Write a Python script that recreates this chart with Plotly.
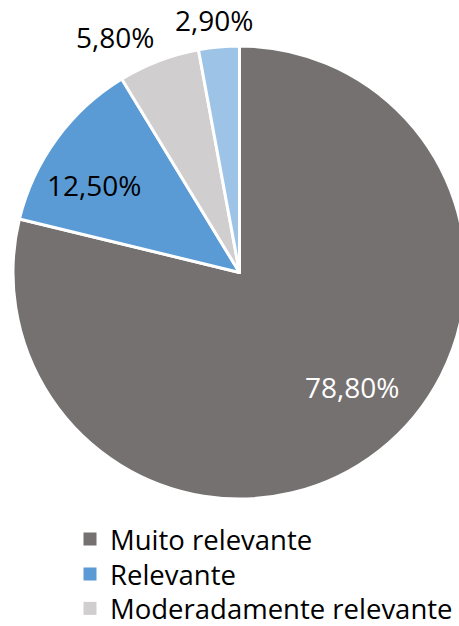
import math
import plotly.graph_objects as go

# Survey answers and their shares (%)
categories = ["Muito relevante", "Relevante", "Moderadamente relevante", "Pouco relevante"]
shares = [78.8, 12.5, 5.8, 2.9]

slice_colors = ["#767171", "#5B9BD5", "#D0CECE", "#9DC3E6"]
label_colors = ["#FFFFFF", "#000000", "#000000", "#000000"]
# radial placement of each percentage label (fraction of radius) and fine pixel nudges
label_radius = [0.713, 0.745, 1.171, 1.128]
label_nudge = [(13, -12), (-9, 12), (-30, 12), (-2, 1.5)]
# legend rows shown below the pie (vertical centre, px from top)
legend_rows = [539, 574, 608.5]

# Percentages written with a decimal comma
share_labels = [f"{v:.2f}%".replace(".", ",") for v in shares]

W, H = 470, 626          # page is 459 wide; the pie's right edge runs past it
CX, CY, R = 239.5, 272.5, 226.5
FONT = "Open Sans"

fig = go.Figure()
fig.add_trace(
    go.Pie(
        labels=categories,
        values=shares,
        text=share_labels,
        textinfo="none",
        hoverinfo="label+text",
        sort=False,
        direction="clockwise",
        rotation=0,
        marker=dict(colors=slice_colors, line=dict(color="white", width=3)),
        domain=dict(x=[(CX - R) / W, (CX + R) / W], y=[(H - CY - R) / H, (H - CY + R) / H]),
        showlegend=False,
    )
)

# Percentage labels placed at each slice's mid-angle
total = sum(shares)
start = 0.0
annotations = []
for v, txt, col, rf, (dx, dy) in zip(shares, share_labels, label_colors, label_radius, label_nudge):
    mid = 2 * math.pi * (start + v / 2) / total
    start += v
    px = CX + math.sin(mid) * R * rf + dx
    py = CY - math.cos(mid) * R * rf + dy
    annotations.append(
        dict(
            x=px / W, y=1 - py / H, xref="paper", yref="paper",
            text=txt, showarrow=False, xanchor="center", yanchor="middle",
            font=dict(family=FONT, size=28, color=col),
        )
    )

# One legend per row so each entry sits on its own line
legend_layout = {}
for i, (name, col, row) in enumerate(zip(categories, slice_colors, legend_rows)):
    key = "legend" if i == 0 else f"legend{i + 1}"
    fig.add_trace(
        go.Scatter(
            x=[None], y=[None], mode="markers", name=name,
            marker=dict(symbol="square", size=13, color=col),
            legend=key, showlegend=True, hoverinfo="skip",
        )
    )
    legend_layout[key] = dict(
        x=70 / W, y=1 - row / H, xanchor="left", yanchor="middle",
        font=dict(family=FONT, size=27.5, color="#000000"),
        bgcolor="rgba(0,0,0,0)", borderwidth=0,
    )

fig.update_layout(
    width=W,
    height=H,
    margin=dict(l=0, r=0, t=0, b=0, autoexpand=False),
    paper_bgcolor="white",
    plot_bgcolor="white",
    xaxis=dict(visible=False),
    yaxis=dict(visible=False),
    annotations=annotations,
    **legend_layout,
)

fig.write_html(
    "out.html",
    post_script="document.body.style.margin='0';document.body.style.overflow='hidden';"
                "document.documentElement.style.overflow='hidden';",
)
